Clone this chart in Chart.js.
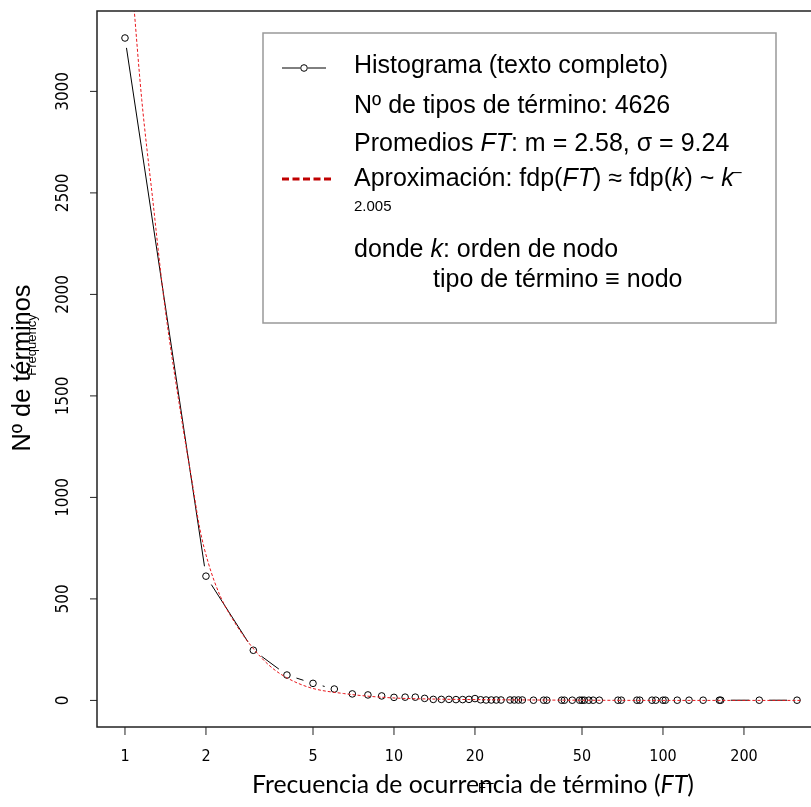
<!DOCTYPE html>
<html>
<head>
<meta charset="utf-8">
<script src="https://cdn.jsdelivr.net/npm/chart.js@4.4.1/dist/chart.umd.min.js"></script>
<style>
  html, body { margin: 0; padding: 0; background: #fff; overflow: hidden; }
  #wrap { width: 830px; height: 807px; }
</style>
</head>
<body>
<div id="wrap"><canvas id="chart"></canvas></div>
<script>
// histogram: term frequency (FT) -> number of term types
const ftValues = [1, 2, 3, 4, 5, 6, 7, 8, 9, 10, 11, 12, 13, 14, 15, 16, 17, 18, 19, 20,
  21, 22, 23, 24, 25, 27, 28, 29, 30, 33, 36, 37, 42, 43, 46, 49, 50, 51, 53, 55, 58,
  68, 70, 80, 82, 91, 94, 100, 102, 113, 125, 141, 162, 164, 228, 315];
const termCounts = [3263, 612, 247, 125, 84, 56, 32, 27, 22, 15, 16, 16, 10, 5, 5, 5, 4, 4, 5, 9,
  3, 2, 2, 2, 2, 2, 2, 2, 2, 1, 1, 1, 1, 1, 1, 1, 1, 1, 1, 1, 1,
  1, 1, 1, 1, 1, 1, 1, 1, 1, 1, 1, 1, 1, 1, 1];

// power-law approximation
const fitX = [1.07, 1.154, 1.268, 1.396, 1.647, 1.77, 1.9, 2.04, 2.26, 2.56, 2.98, 3.46, 3.99,
  4.87, 6.48, 9.67, 15, 25, 50, 100, 200, 329];
const fitY = [3480, 2961, 2468, 1975, 1335, 1089, 842, 678, 514, 383, 260, 169, 112,
  63, 34, 13, 6, 3, 1, 0, 0, 0];

const xTicks = [1, 2, 5, 10, 20, 50, 100, 200];
const yTicks = [0, 500, 1000, 1500, 2000, 2500, 3000];

const GAP = 10;
const SANS = '"Liberation Sans", Arial, sans-serif';
const NARROW = '"Liberation Sans Narrow", "DejaVu Sans Condensed", sans-serif';

function drawRich(ctx, parts, x, y, size) {
  let cx = x;
  parts.forEach(([txt, italic]) => {
    ctx.font = `${italic ? 'italic ' : ''}${size}px ${SANS}`;
    ctx.fillText(txt, cx, y);
    cx += ctx.measureText(txt).width;
  });
  return cx;
}

function fitFont(ctx, txt, family, width) {
  ctx.font = `20px ${family}`;
  return 20 * width / ctx.measureText(txt).width;
}

// R style type="b": segments between points, with a gap round each point
const histLines = {
  id: 'histLines',
  beforeDatasetsDraw(chart) {
    const meta = chart.getDatasetMeta(0);
    const ctx = chart.ctx;
    const a = chart.chartArea;
    ctx.save();
    ctx.beginPath();
    ctx.rect(a.left, a.top, a.right - a.left, a.bottom - a.top);
    ctx.clip();
    ctx.strokeStyle = '#000';
    ctx.lineWidth = 1;
    for (let i = 0; i < meta.data.length - 1; i++) {
      const p = meta.data[i], q = meta.data[i + 1];
      const dx = q.x - p.x, dy = q.y - p.y;
      const d = Math.hypot(dx, dy);
      if (d <= 2 * GAP) continue;
      const ux = dx / d, uy = dy / d;
      ctx.beginPath();
      ctx.moveTo(p.x + ux * GAP, p.y + uy * GAP);
      ctx.lineTo(q.x - ux * GAP, q.y - uy * GAP);
      ctx.stroke();
    }
    ctx.restore();
  }
};

const frame = {
  id: 'frame',
  afterDraw(chart) {
    const ctx = chart.ctx;
    const a = chart.chartArea;
    const xs = chart.scales.x, ys = chart.scales.y;
    ctx.save();

    // plot box
    ctx.strokeStyle = '#222';
    ctx.lineWidth = 1.5;
    ctx.strokeRect(a.left, a.top, a.right - a.left, a.bottom - a.top);

    // x axis ticks + labels
    ctx.lineWidth = 1;
    ctx.fillStyle = '#000';
    ctx.font = `16px ${NARROW}`;
    ctx.textAlign = 'center';
    ctx.textBaseline = 'middle';
    xTicks.forEach(v => {
      const px = xs.getPixelForValue(v);
      ctx.beginPath();
      ctx.moveTo(px, a.bottom);
      ctx.lineTo(px, a.bottom + 8);
      ctx.stroke();
      ctx.fillText(String(v), px, 757);
    });

    // y axis ticks + rotated labels
    ctx.font = `17px ${NARROW}`;
    yTicks.forEach(v => {
      const py = ys.getPixelForValue(v);
      ctx.beginPath();
      ctx.moveTo(a.left - 7, py);
      ctx.lineTo(a.left, py);
      ctx.stroke();
      ctx.save();
      ctx.translate(64, py);
      ctx.rotate(-Math.PI / 2);
      ctx.fillText(String(v), 0, 0);
      ctx.restore();
    });

    // x title (with the leftover small "FT" on top of it)
    const xt = 'Frecuencia de ocurrencia de término (';
    const xFam = 'Lato, "Open Sans", sans-serif';
    const xs1 = fitFont(ctx, xt + 'FT)', xFam, 444);
    ctx.textAlign = 'left';
    ctx.textBaseline = 'alphabetic';
    ctx.font = `${xs1}px ${xFam}`;
    let cx = 252;
    ctx.fillText(xt, cx, 793);
    cx += ctx.measureText(xt).width;
    ctx.font = `italic ${xs1}px ${xFam}`;
    ctx.fillText('FT', cx, 793);
    cx += ctx.measureText('FT').width;
    ctx.font = `${xs1}px ${xFam}`;
    ctx.fillText(')', cx, 793);
    ctx.font = `13px ${SANS}`;
    ctx.textAlign = 'center';
    ctx.fillText('FT', 486, 792);

    // y title (with the leftover small "Frequency")
    ctx.save();
    ctx.translate(23, 368);
    ctx.rotate(-Math.PI / 2);
    ctx.textBaseline = 'middle';
    ctx.font = `${fitFont(ctx, 'Nº de términos', SANS, 167)}px ${SANS}`;
    ctx.fillText('Nº de términos', 0, 0);
    ctx.restore();
    ctx.save();
    ctx.translate(32, 345);
    ctx.rotate(-Math.PI / 2);
    ctx.textBaseline = 'middle';
    ctx.font = `13px ${SANS}`;
    ctx.fillText('Frequency', 0, 0);
    ctx.restore();

    // legend
    ctx.fillStyle = '#fff';
    ctx.fillRect(263, 33, 513, 290);
    ctx.strokeStyle = '#999';
    ctx.lineWidth = 1.5;
    ctx.strokeRect(263, 33, 513, 290);

    ctx.strokeStyle = '#000';
    ctx.lineWidth = 1;
    ctx.beginPath();
    ctx.moveTo(282, 68); ctx.lineTo(300, 68);
    ctx.moveTo(308, 68); ctx.lineTo(326, 68);
    ctx.stroke();
    ctx.beginPath();
    ctx.arc(304, 68, 3.3, 0, Math.PI * 2);
    ctx.stroke();

    ctx.strokeStyle = '#c00000';
    ctx.lineWidth = 3;
    ctx.setLineDash([7, 3.5]);
    ctx.beginPath();
    ctx.moveTo(282, 179); ctx.lineTo(331, 179);
    ctx.stroke();
    ctx.setLineDash([]);

    ctx.fillStyle = '#000';
    ctx.textAlign = 'left';
    ctx.textBaseline = 'alphabetic';
    const L = 354, fs = 25;
    drawRich(ctx, [['Histograma (texto completo)', false]], L, 73, fs);
    drawRich(ctx, [['Nº de tipos de término: 4626', false]], L, 113, fs);
    drawRich(ctx, [['Promedios ', false], ['FT', true], [': m = 2.58, σ = 9.24', false]], L, 151, fs);
    const end = drawRich(ctx, [['Aproximación: fdp(', false], ['FT', true], [') ≈ fdp(', false],
      ['k', true], [') ~ ', false], ['k', true]], L, 186, fs);
    ctx.font = `16px ${SANS}`;
    ctx.fillText('–', end - 1, 177);
    ctx.font = `15px ${SANS}`;
    ctx.fillText('2.005', L, 211);
    drawRich(ctx, [['donde ', false], ['k', true], [': orden de nodo', false]], L, 257, fs);
    drawRich(ctx, [['tipo de término ≡ nodo', false]], 433, 287, fs);

    ctx.restore();
  }
};

new Chart(document.getElementById('chart'), {
  type: 'scatter',
  data: {
    datasets: [
      {
        label: 'Histograma (texto completo)',
        data: ftValues.map((x, i) => ({ x: x, y: termCounts[i] })),
        showLine: false,
        pointStyle: 'circle',
        pointRadius: 3.3,
        pointBorderWidth: 1,
        pointBorderColor: '#000',
        pointBackgroundColor: 'rgba(0,0,0,0)',
        order: 2
      },
      {
        label: 'Aproximación',
        type: 'line',
        data: fitX.map((x, i) => ({ x: x, y: fitY[i] })),
        borderColor: '#e8161b',
        borderWidth: 1,
        borderDash: [3, 2],
        pointRadius: 0,
        fill: false,
        cubicInterpolationMode: 'monotone',
        order: 1
      }
    ]
  },
  options: {
    responsive: true,
    maintainAspectRatio: false,
    animation: false,
    events: [],
    layout: { padding: { left: 97, top: 11, right: 6, bottom: 80 } },
    plugins: { legend: { display: false }, tooltip: { enabled: false } },
    scales: {
      x: { type: 'logarithmic', display: false, min: 0.787, max: 396.8 },
      y: { type: 'linear', display: false, min: -131, max: 3396 }
    }
  },
  plugins: [histLines, frame]
});
</script>
</body>
</html>
